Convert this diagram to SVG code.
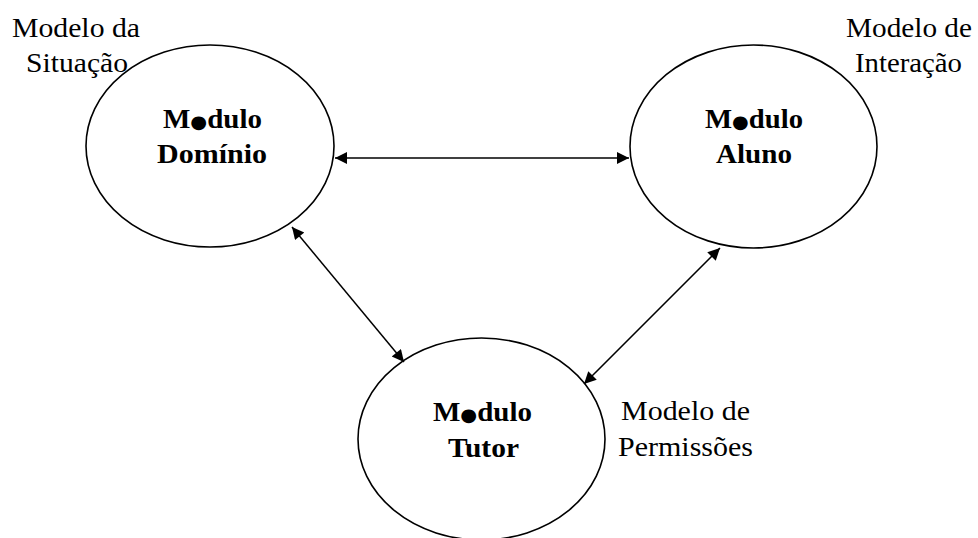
<svg xmlns="http://www.w3.org/2000/svg" width="978" height="538" viewBox="0 0 978 538">
<style>
.n{fill:none;stroke:#000;stroke-width:1.6}
.t{font-family:"Liberation Serif","Times New Roman",serif;font-size:27px;fill:#000}
.b{font-weight:bold}
.d{font-family:"DejaVu Sans",sans-serif;font-size:18px}
.c{stroke:#000;stroke-width:1.5;fill:none}
</style>
<defs>
<marker id="ah" viewBox="0 0 10 10" refX="10" refY="5" markerWidth="15" markerHeight="12" markerUnits="userSpaceOnUse" orient="auto-start-reverse">
<path d="M0,0 L10,5 L0,10 z" fill="#000"/>
</marker>
</defs>
<g id="connectors">
<line class="c" x1="335" y1="158" x2="629" y2="158" marker-start="url(#ah)" marker-end="url(#ah)"/>
<line class="c" x1="292" y1="227" x2="404" y2="362" marker-start="url(#ah)" marker-end="url(#ah)"/>
<line class="c" x1="720" y1="248" x2="584" y2="384" marker-start="url(#ah)" marker-end="url(#ah)"/>
</g>
<g id="dominio">
<ellipse class="n" cx="210" cy="146" rx="124" ry="101"/>
<text class="t b" x="163" y="128" textLength="99" lengthAdjust="spacingAndGlyphs">M<tspan class="d">●</tspan>dulo</text>
<text class="t b" x="157" y="163" textLength="110" lengthAdjust="spacingAndGlyphs">Domínio</text>
</g>
<g id="aluno">
<ellipse class="n" cx="753.5" cy="146.5" rx="123.5" ry="101.5"/>
<text class="t b" x="705" y="128" textLength="98" lengthAdjust="spacingAndGlyphs">M<tspan class="d">●</tspan>dulo</text>
<text class="t b" x="716" y="163" textLength="76" lengthAdjust="spacingAndGlyphs">Aluno</text>
</g>
<g id="tutor">
<ellipse class="n" cx="481.5" cy="439" rx="123.5" ry="101"/>
<text class="t b" x="433" y="421" textLength="99" lengthAdjust="spacingAndGlyphs">M<tspan class="d">●</tspan>dulo</text>
<text class="t b" x="448" y="457" textLength="71" lengthAdjust="spacingAndGlyphs">Tutor</text>
</g>
<g id="label-situacao">
<text class="t" x="12" y="37" textLength="128" lengthAdjust="spacingAndGlyphs">Modelo da</text>
<text class="t" x="26" y="72" textLength="102" lengthAdjust="spacingAndGlyphs">Situação</text>
</g>
<g id="label-interacao">
<text class="t" x="846" y="37" textLength="126" lengthAdjust="spacingAndGlyphs">Modelo de</text>
<text class="t" x="855" y="72" textLength="107" lengthAdjust="spacingAndGlyphs">Interação</text>
</g>
<g id="label-permissoes">
<text class="t" x="621" y="420" textLength="129" lengthAdjust="spacingAndGlyphs">Modelo de</text>
<text class="t" x="618" y="456" textLength="135" lengthAdjust="spacingAndGlyphs">Permissões</text>
</g>
</svg>
